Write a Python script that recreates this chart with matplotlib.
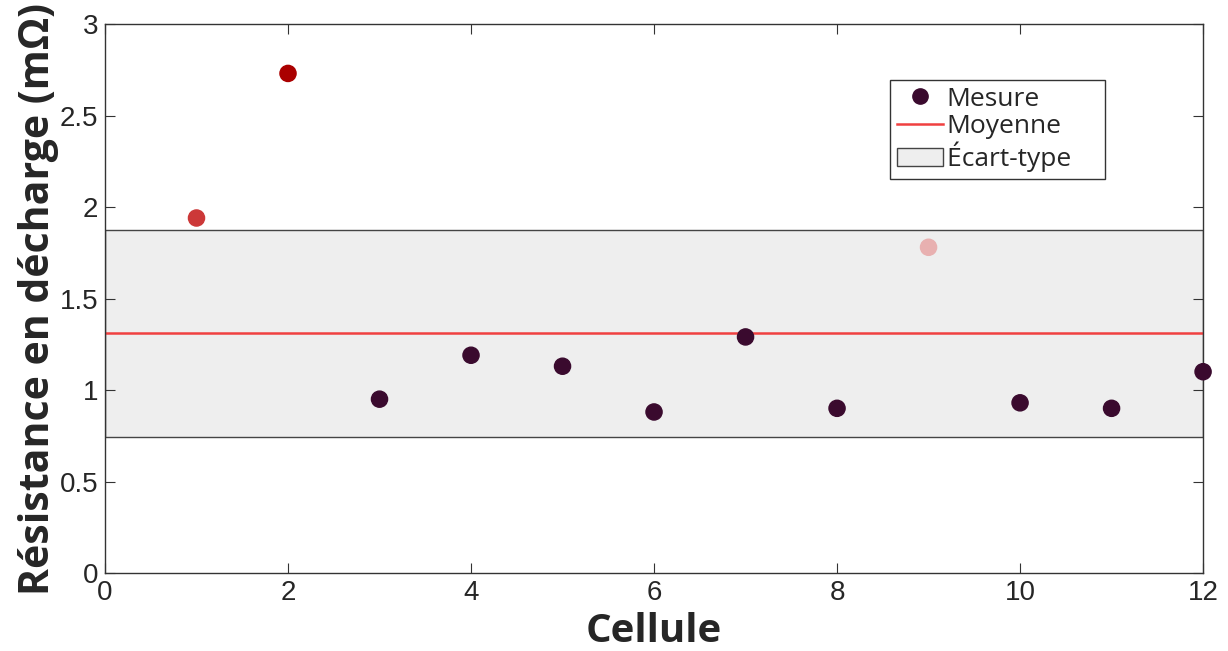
import numpy as np
import matplotlib.pyplot as plt

# data
cells = [1, 2, 3, 4, 5, 6, 7, 8, 9, 10, 11, 12]
resistance = [1.94, 2.73, 0.95, 1.19, 1.13, 0.88, 1.29, 0.90, 1.78, 0.93, 0.90, 1.10]
point_colors = ["#cc3838", "#aa0000", "#3a0a2e", "#3a0a2e", "#3a0a2e", "#3a0a2e",
                "#3a0a2e", "#3a0a2e", "#e8b0b0", "#3a0a2e", "#3a0a2e", "#3a0a2e"]

mean = np.mean(resistance)
std = np.std(resistance, ddof=1)

fig = plt.figure(figsize=(12.28, 6.51), dpi=100)
ax = fig.add_axes([0.0855, 0.1198, 0.8942, 0.8433])

band = ax.axhspan(mean - std, mean + std, facecolor="#eeeeee", edgecolor="#444444",
                  linewidth=1.0, zorder=1, label="Écart-type    ")
line, = ax.plot([0, 12], [mean, mean], color="#f04040", linewidth=1.8, zorder=2,
                label="Moyenne")
ax.scatter(cells, resistance, s=135, c=point_colors, zorder=3, clip_on=False)
handle_pt, = ax.plot([], [], "o", color="#3a0a2e", markersize=11, linestyle="none",
                     label="Mesure")

ax.set_xlim(0, 12)
ax.set_ylim(0, 3)
ax.set_xticks(range(0, 13, 2))
ax.set_yticks([0, 0.5, 1, 1.5, 2, 2.5, 3])
ax.set_yticklabels(["0", "0.5", "1", "1.5", "2", "2.5", "3"])
ax.tick_params(direction="in", length=7, width=0.8, colors="#333333",
               labelsize=20, top=True, right=True, pad=5)
for lab in ax.get_xticklabels() + ax.get_yticklabels():
    lab.set_family("Liberation Sans")
    lab.set_color("#262626")
for sp in ax.spines.values():
    sp.set_color("#333333")
    sp.set_linewidth(1.0)

ax.set_xlabel("Cellule", fontsize=29, fontweight="bold", family="Open Sans",
              color="#262626", labelpad=4)
ax.set_ylabel("Résistance en décharge (mΩ)", fontsize=29.5, fontweight="bold",
              family="Open Sans", color="#262626", labelpad=0)

leg = ax.legend(handles=[handle_pt, line, band], loc="upper left",
                bbox_to_anchor=(0.715, 0.898), fancybox=False, framealpha=1,
                edgecolor="#333333", prop={"family": "Open Sans", "size": 19},
                handlelength=1.75, handletextpad=0.15, labelspacing=0.1,
                borderpad=0.25, borderaxespad=0)
leg.get_frame().set_linewidth(1.0)
for t in leg.get_texts():
    t.set_color("#262626")

fig.savefig("out.png", dpi=100)
